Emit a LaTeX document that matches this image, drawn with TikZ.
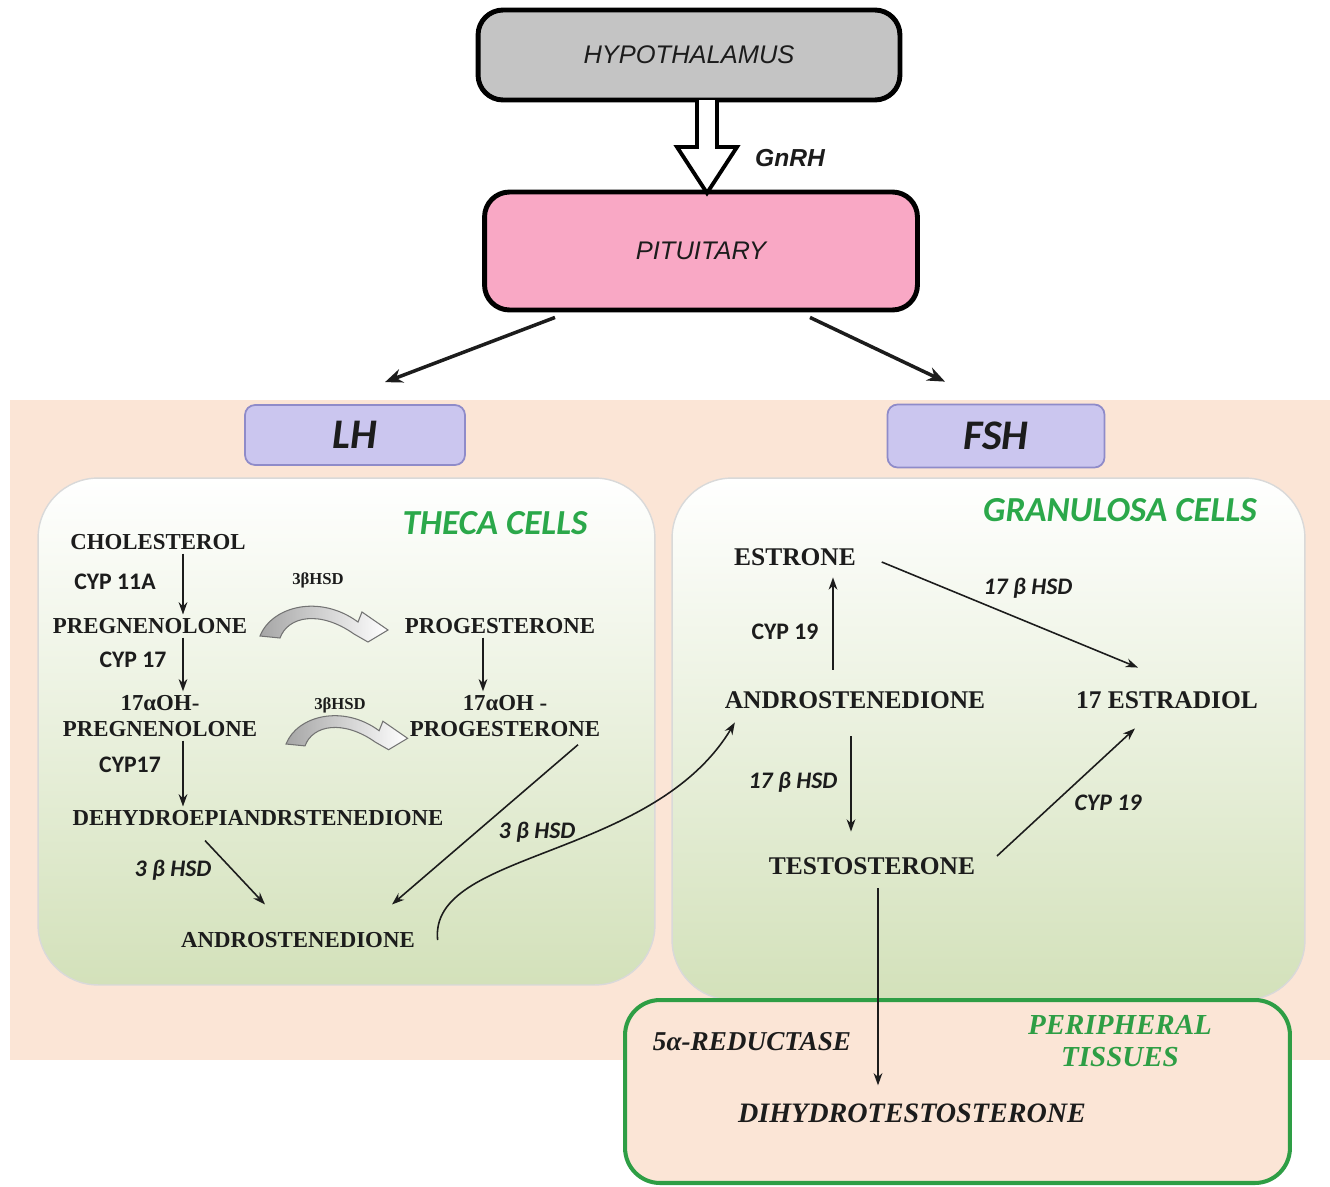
\documentclass[tikz,border=0pt]{standalone}
\usepackage{fontspec}
\setmainfont{Liberation Serif}
\newfontfamily\calfont{Carlito}
\newfontfamily\arialfont{Liberation Sans}
\usetikzlibrary{arrows.meta, calc}
\definecolor{hypogray}{HTML}{C4C4C4}
\definecolor{pitpink}{HTML}{F9A8C5}
\definecolor{hormlav}{HTML}{CBC6EF}
\definecolor{hormedge}{HTML}{8F8BC9}
\definecolor{peach}{HTML}{FBE5D6}
\definecolor{cellgreen}{HTML}{D3E1BA}
\definecolor{titlegreen}{HTML}{2BA84A}
\definecolor{tissuegreen}{HTML}{2E9E45}
\definecolor{ink}{HTML}{1C1C1C}
\tikzset{
    gland/.style={rectangle, rounded corners=0.5cm, draw=black, line width=2.8pt, font=\arialfont\itshape\fontsize{14.5}{17}\selectfont, text=ink},
    hormone/.style={rectangle, rounded corners=0.2cm, draw=hormedge, line width=1pt, fill=hormlav, font=\calfont\bfseries\itshape\fontsize{24}{28}\selectfont, text=ink},
    cellbox/.style={rectangle, rounded corners=1.2cm, draw=black!15, line width=0.8pt, top color=white, middle color=cellgreen!45, bottom color=cellgreen},
    celltitle/.style={font=\calfont\bfseries\itshape\fontsize{20}{24}\selectfont, text=titlegreen},
    cpd/.style={font=\bfseries\fontsize{13}{15}\selectfont, text=ink, inner sep=2pt, align=center},
    cpdr/.style={font=\bfseries\fontsize{14.5}{17}\selectfont, text=ink, inner sep=2pt},
    enz/.style={font=\calfont\bfseries\fontsize{13.5}{16}\selectfont, text=ink, inner sep=1pt},
    enzi/.style={enz, font=\calfont\bfseries\itshape\fontsize{13.5}{16}\selectfont},
    smallhsd/.style={font=\bfseries\fontsize{9.5}{11}\selectfont, text=ink, inner sep=1pt},
    arrow/.style={draw=ink, line width=0.9pt, -{Stealth[length=7pt,width=5pt]}},
    bigarrow/.style={draw=ink, line width=2pt, -{Stealth[length=10pt,width=8pt]}},
    hollow/.style={draw=black, line width=2.2pt, fill=white, line join=miter},
    bentfill/.style={draw=black!55, line width=0.6pt, left color=black!35, right color=white},
    bentarrow/.pic={
        \path[bentfill] (0,0) .. controls (12,-30) and (60,-42) .. (98,-14) -- (102,-24) -- (128,-6) -- (108,6) -- (94,-2) .. controls (60,-26) and (28,-20) .. (20,2) -- cycle;
    }
}
\begin{document}
\begin{tikzpicture}[x=0.02cm, y=-0.02cm]
    \fill[white] (0,0) rectangle (1330,1187);
    \useasboundingbox (0,0) rectangle (1330,1187);
    % background regions
    \fill[peach] (10,400) rectangle (1330,1060);
    \node (thecabox) [cellbox, minimum width=12.34cm, minimum height=10.14cm] at (346.5,731.5) {};
    \node (granbox) [cellbox, minimum width=12.66cm, minimum height=10.44cm] at (988.5,739) {};
    \node (tissuebox) [rectangle, rounded corners=0.7cm, draw=tissuegreen, line width=2.3pt, fill=peach, minimum width=13.3cm, minimum height=3.66cm] at (957.5,1091.5) {};

    % glands
    \node (hypo) [gland, fill=hypogray, minimum width=8.44cm, minimum height=1.8cm] at (689,55) {HYPOTHALAMUS};
    \node (pit) [gland, fill=pitpink, minimum width=8.66cm, minimum height=2.36cm] at (701,251) {PITUITARY};
    \coordinate (g1) at (707,100);
    \coordinate (g2) at (707,193);
    \draw[hollow] ($(g1)+(-10,0)$) -- ($(g1)+(-10,47)$) -- ($(g1)+(-30,47)$) -- (g2) -- ($(g1)+(30,47)$) -- ($(g1)+(10,47)$) -- ($(g1)+(10,0)$);
    \node (gnrh) [font=\arialfont\bfseries\itshape\fontsize{14}{17}\selectfont, text=ink] at (790,158) {GnRH};

    \node (lh) [hormone, minimum width=4.4cm, minimum height=1.2cm] at (355,435) {LH};
    \node (fsh) [hormone, minimum width=4.34cm, minimum height=1.26cm] at (996,436) {FSH};
    \draw[bigarrow] ($(pit.south)+(-146,5)$) -- ($(lh.north)+(30,-22)$);
    \draw[bigarrow] ($(pit.south)+(109,5)$) -- ($(fsh.north)+(-51,-22)$);

    % theca cells
    \node (thecat) [celltitle] at (495,523) {THECA CELLS};
    \node (chol) [cpd] at (158,542) {CHOLESTEROL};
    \node (preg) [cpd] at (150,626) {PREGNENOLONE};
    \node (prog) [cpd] at (500,626) {PROGESTERONE};
    \node (ohpreg) [cpd] at (160,716) {17αOH-\\PREGNENOLONE};
    \node (ohprog) [cpd] at (505,716) {17αOH -\\PROGESTERONE};
    \node (dhea) [cpd] at (258,818) {DEHYDROEPIANDRSTENEDIONE};
    \node (andl) [cpd] at (298,940) {ANDROSTENEDIONE};

    \node (cyp11a) [enz] at (115,582) {CYP 11A};
    \node (hsd1) [smallhsd] at (318,580) {3βHSD};
    \node (cyp17a) [enz] at (133,660) {CYP 17};
    \node (hsd2) [smallhsd] at (340,705) {3βHSD};
    \node (cyp17b) [enz] at (130,765) {CYP17};
    \node (hsd3) [enzi] at (173,870) {3 β HSD};
    \node (hsd4) [enzi] at (537,832) {3 β HSD};

    \pic at (260,636) {bentarrow};
    \pic[scale=0.95] at (286,744) {bentarrow};

    \coordinate (colA) at (183,0);
    \coordinate (colP) at (483,0);
    \draw[arrow] (chol.south -| colA) -- (preg.north -| colA);
    \draw[arrow] (preg.south -| colA) -- (ohpreg.north -| colA);
    \draw[arrow] (ohpreg.south -| colA) -- (dhea.north -| colA);
    \draw[arrow] (prog.south -| colP) -- (ohprog.north -| colP);
    \draw[arrow] ($(dhea.south)+(-53,11)$) -- ($(andl.north)+(-33,-24)$);
    \draw[arrow] ($(ohprog.south)+(73,4)$) -- ($(andl.north)+(94,-24)$);

    % granulosa cells
    \node (granut) [celltitle] at (1120,510) {GRANULOSA CELLS};
    \node (estr) [cpdr] at (795,557) {ESTRONE};
    \node (andr) [cpdr] at (855,700) {ANDROSTENEDIONE};
    \node (estd) [cpdr] at (1167,700) {17 ESTRADIOL};
    \node (test) [cpdr] at (872,866) {TESTOSTERONE};

    \node (cyp19a) [enz] at (785,632) {CYP 19};
    \node (hsd17a) [enzi] at (1028,588) {17 β HSD};
    \node (hsd17b) [enzi] at (793,782) {17 β HSD};
    \node (cyp19b) [enzi] at (1108,803) {CYP 19};

    \coordinate (colB) at (833,0);
    \coordinate (colC) at (851,0);
    \coordinate (colD) at (878,0);
    \draw[arrow] ($(andr.north -| colB)+(0,-18)$) -- ($(estr.south -| colB)+(0,8)$);
    \draw[arrow] ($(estr.east)+(22,5)$) -- ($(estd.north)+(-29,-20)$);
    \draw[arrow] ($(andr.south -| colC)+(0,24)$) -- ($(test.north -| colC)+(0,-22)$);
    \draw[arrow] ($(test.east)+(18,-10)$) -- ($(estd.south)+(-32,16)$);
    \draw[arrow] ($(andl.east)+(19,0)$) .. controls +(-9,-90) and +(-83,138) .. ($(andr.south west)+(14,10)$);

    % peripheral tissues
    \node (perit) [font=\bfseries\itshape\fontsize{16.5}{18}\selectfont, text=tissuegreen, align=center] at (1120,1041) {PERIPHERAL\\TISSUES};
    \node (dht) [font=\bfseries\itshape\fontsize{16}{19}\selectfont, text=ink] at (912,1113) {DIHYDROTESTOSTERONE};
    \node (red) [font=\bfseries\itshape\fontsize{15.5}{18}\selectfont, text=ink] at (752,1042) {5α-REDUCTASE};
    \draw[arrow] ($(test.south -| colD)+(0,10)$) -- ($(dht.north -| colD)+(0,-12)$);
\end{tikzpicture}
\end{document}
